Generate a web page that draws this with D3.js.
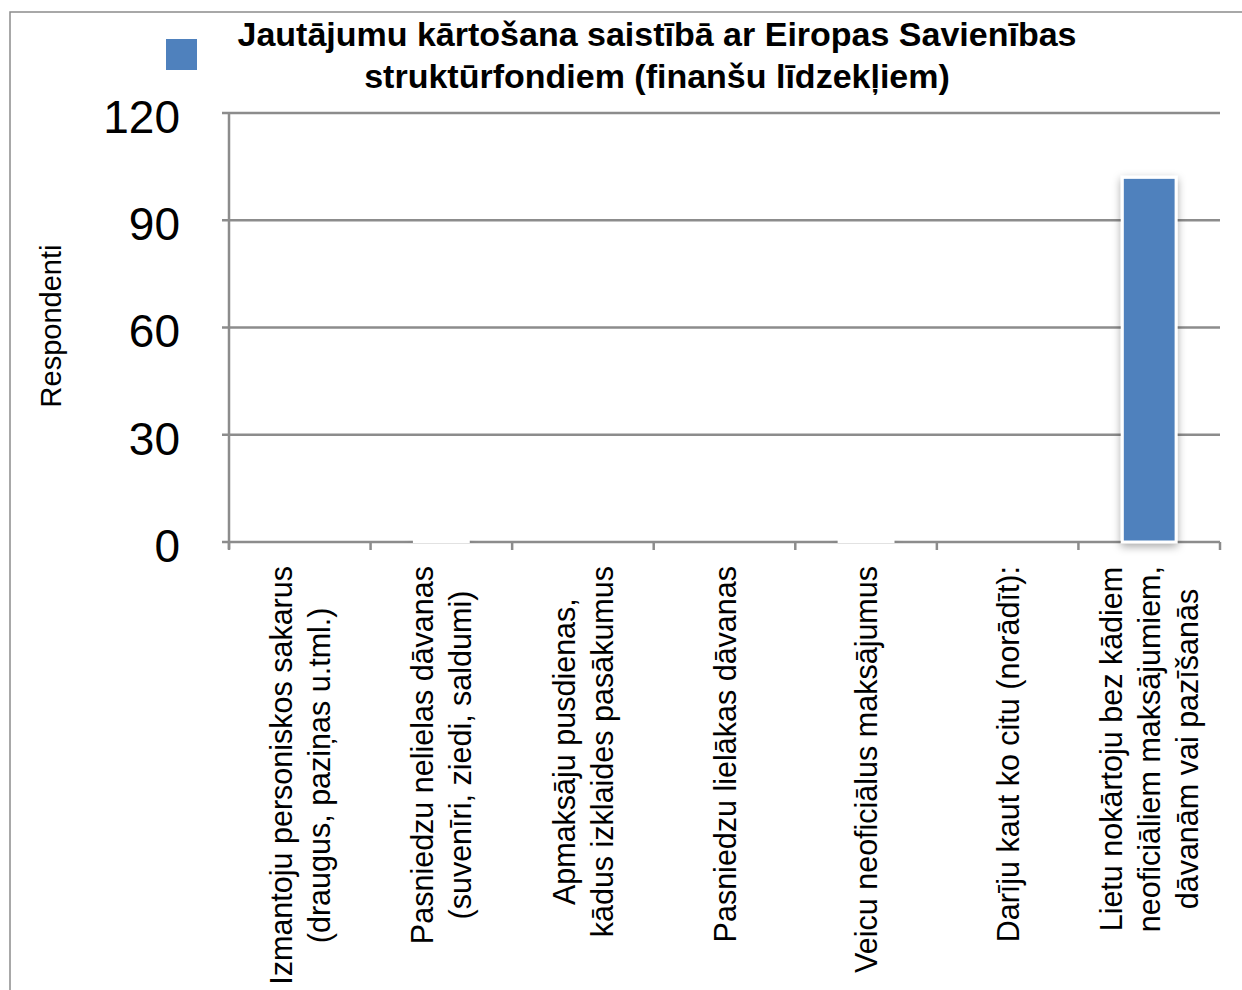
<!DOCTYPE html>
<html>
<head>
<meta charset="utf-8">
<script src="https://cdn.jsdelivr.net/npm/d3@7"></script>
<style>
  body { margin: 0; background: #fff; }
  text { font-family: "Liberation Sans", Arial, sans-serif; }
</style>
</head>
<body>
<div id="viz"></div>
<script>
var categories = [
  ["Izmantoju personiskos sakarus", "(draugus, paziņas u.tml.)"],
  ["Pasniedzu nelielas dāvanas", "(suvenīri, ziedi, saldumi)"],
  ["Apmaksāju pusdienas,", "kādus izklaides pasākumus"],
  ["Pasniedzu lielākas dāvanas"],
  ["Veicu neoficiālus maksājumus"],
  ["Darīju kaut ko citu (norādīt):"],
  ["Lietu nokārtoju bez kādiem", "neoficiāliem maksājumiem,", "dāvanām vai pazīšanās"]
];
var values = [0, 0.3, 0, 0, 0.3, 0, 102];
var yTicks = [0, 30, 60, 90, 120];
var titleLines = ["Jautājumu kārtošana saistībā ar Eiropas Savienības", "struktūrfondiem (finanšu līdzekļiem)"];
var axisTitle = "Respondenti";

var W = 1242, H = 990;
var plotLeft = 229, plotRight = 1220, plotTop = 113, plotBottom = 542;
var barColor = "#4f81bd", gridColor = "#8c8c8c";

var svg = d3.select("#viz").append("svg")
  .attr("width", W).attr("height", H);

var defs = svg.append("defs");
var f = defs.append("filter").attr("id", "shadow")
  .attr("x", "-30%").attr("y", "-30%").attr("width", "160%").attr("height", "160%");
f.append("feDropShadow").attr("dx", 0).attr("dy", 3).attr("stdDeviation", 4)
  .attr("flood-color", "#000").attr("flood-opacity", 0.35);

// outer frame
svg.append("rect").attr("x", 10).attr("y", 12).attr("width", W).attr("height", H)
  .attr("fill", "none").attr("stroke", "#8c8c8c").attr("stroke-width", 1.5);

var x = d3.scaleBand().domain(d3.range(categories.length))
  .range([plotLeft, plotRight]).paddingInner(0.62).paddingOuter(0.31);
var y = d3.scaleLinear().domain([0, 120]).range([plotBottom, plotTop]);

// grid lines
svg.append("g").selectAll("line").data(yTicks).join("line")
  .attr("x1", plotLeft - 7).attr("x2", plotRight)
  .attr("y1", function(d){ return y(d); }).attr("y2", function(d){ return y(d); })
  .attr("stroke", gridColor).attr("stroke-width", 2.5);

// y axis line
svg.append("line").attr("x1", plotLeft).attr("x2", plotLeft)
  .attr("y1", plotTop).attr("y2", plotBottom + 7)
  .attr("stroke", gridColor).attr("stroke-width", 2.5);

// x ticks
svg.append("g").selectAll("line").data(d3.range(categories.length + 1)).join("line")
  .attr("x1", function(i){ return plotLeft + i * x.step(); })
  .attr("x2", function(i){ return plotLeft + i * x.step(); })
  .attr("y1", plotBottom).attr("y2", plotBottom + 8)
  .attr("stroke", gridColor).attr("stroke-width", 2.5);

// y tick labels
svg.append("g").selectAll("text").data(yTicks).join("text")
  .attr("x", 180).attr("y", function(d){ return y(d); })
  .attr("dy", "0.43em").attr("text-anchor", "end")
  .style("font-size", "46px").attr("fill", "#000")
  .text(function(d){ return d; });

// bars
svg.append("g").selectAll("rect").data(values).join("rect")
  .attr("x", function(d, i){ return x(i); })
  .attr("y", function(d){ return y(d); })
  .attr("width", x.bandwidth())
  .attr("height", function(d){ return plotBottom - y(d); })
  .attr("fill", barColor)
  .attr("stroke", "#fff").attr("stroke-width", 3)
  .attr("filter", "url(#shadow)")
  .attr("opacity", function(d){ return d > 0 ? 1 : 0; });

// category labels: lines centred on each other, block hangs from y=566
var lineGap = 38;
categories.forEach(function(lines, i){
  var cx = x(i) + x.bandwidth() / 2;
  var n = lines.length;
  var g = svg.append("g");
  var texts = lines.map(function(t, j){
    return g.append("text")
      .attr("text-anchor", "middle")
      .style("font-size", "30.5px").attr("fill", "#000")
      .text(t);
  });
  var maxLen = d3.max(texts, function(t){ return t.node().getComputedTextLength(); });
  texts.forEach(function(t, j){
    var lx = cx + (j - (n - 1) / 2) * lineGap + 11;
    t.attr("transform", "translate(" + lx + "," + (566 + maxLen / 2) + ") rotate(-90)");
  });
});

// axis title
svg.append("text")
  .attr("transform", "translate(61,326) rotate(-90)")
  .attr("text-anchor", "middle")
  .style("font-size", "29px").attr("fill", "#000")
  .text(axisTitle);

// legend
svg.append("rect").attr("x", 166).attr("y", 39).attr("width", 31).attr("height", 31)
  .attr("fill", barColor);

// title
svg.append("g").selectAll("text").data(titleLines).join("text")
  .attr("x", 657).attr("y", function(d, i){ return 46 + i * 42; })
  .attr("text-anchor", "middle")
  .style("font-size", "34px").style("font-weight", "bold").attr("fill", "#000")
  .text(function(d){ return d; });
</script>
</body>
</html>
